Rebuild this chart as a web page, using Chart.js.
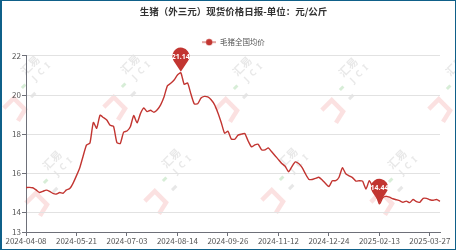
<!DOCTYPE html>
<html>
<head>
<meta charset="utf-8">
<script src="https://cdn.jsdelivr.net/npm/chart.js@4"></script>
<style>
  html, body { margin: 0; padding: 0; background: #fff; }
  #wrap { position: relative; width: 456px; height: 250px; }
  #frame { position: absolute; left: 0; top: 0; width: 456px; height: 250px; box-sizing: border-box;
           border: 1px solid #0f6089; border-left-width: 2px; pointer-events: none; }
</style>
</head>
<body>
<div id="wrap">
  <canvas id="price-chart" width="456" height="250"></canvas>
  <div id="frame"></div>
</div>
<script>
// 数据
var titleText = '生猪（外三元）现货价格日报-单位：元/公斤';
var seriesName = '毛猪全国均价';
var tickLabels = ['2024-04-08', '2024-05-21', '2024-07-03', '2024-08-14', '2024-09-26',
                  '2024-11-12', '2024-12-24', '2025-02-13', '2025-03-27'];
var STEP = 15; // số điểm giữa 2 nhãn
var yTicks = [13, 14, 16, 18, 20, 22];
var prices = [
    15.27, 15.28, 15.26, 15.15, 15.02, 15.08, 15.14, 15.08, 14.97, 14.94,
    15.02, 14.98, 15.15, 15.22, 15.50, 15.88, 16.30, 16.90, 17.45, 17.55,
    18.60, 18.30, 18.97, 18.85, 18.72, 18.45, 18.40, 17.57, 17.52, 18.10,
    18.16, 18.38, 18.95, 18.58, 19.05, 19.34, 19.15, 19.22, 19.12, 19.25,
    19.50, 19.90, 20.47, 20.60, 20.77, 21.02, 21.14, 20.55, 20.62, 20.05,
    19.55, 19.55, 19.85, 19.93, 19.90, 19.76, 19.51, 19.10, 18.60, 18.05,
    18.15, 17.75, 17.74, 17.95, 18.00, 18.03, 17.65, 17.35, 17.45, 17.48,
    17.20, 17.20, 17.30, 17.10, 16.90, 16.70, 16.50, 16.36, 16.08, 16.34,
    16.58, 16.50, 16.30, 15.98, 15.70, 15.68, 15.74, 15.80, 15.66, 15.48,
    15.32, 15.62, 15.62, 15.80, 16.28, 15.98, 15.87, 15.78, 15.60, 15.62,
    15.60, 15.20, 15.62, 15.30, 14.95, 14.44, 14.75, 14.82, 14.78, 14.70,
    14.65, 14.60, 14.52, 14.58, 14.50, 14.66, 14.55, 14.52, 14.72, 14.72,
    14.65, 14.62, 14.66, 14.57
];

var categories = prices.map(function (v, i) {
    return i % STEP === 0 ? tickLabels[i / STEP] : '';
});

var RED = '#c23531';
var AXIS = '#6e7079';
Chart.defaults.font.family = '"Noto Sans CJK SC", "Noto Sans", sans-serif';

// icon legend: đường + chấm tròn
var legendIcon = document.createElement('canvas');
legendIcon.width = 14; legendIcon.height = 8;
(function () {
    var c = legendIcon.getContext('2d');
    c.strokeStyle = 'rgba(194,53,49,0.45)';
    c.lineWidth = 2;
    c.beginPath(); c.moveTo(0, 4); c.lineTo(14, 4); c.stroke();
    c.fillStyle = RED;
    c.beginPath(); c.arc(7, 4, 3.2, 0, Math.PI * 2); c.fill();
})();

// watermark 汇易 JCI
var watermarkPlugin = {
    id: 'watermark',
    beforeDraw: function (chart) {
        var ctx = chart.ctx;
        var spots = [[30, 65], [130, 64], [242, 66], [348, 67], [455, 66],
                     [52, 160], [171, 158], [288, 157], [397, 159]];
        spots.forEach(function (p) {
            ctx.save();
            ctx.translate(p[0], p[1]);
            ctx.rotate(-Math.PI / 4);
            ctx.textAlign = 'center';
            ctx.textBaseline = 'middle';
            ctx.fillStyle = 'rgba(190,190,190,0.35)';
            ctx.font = 'bold 11px "Noto Sans CJK SC"';
            ctx.fillText('汇易', 0, 0);
            ctx.font = 'bold 9px "Noto Sans"';
            ctx.fillText('J  C  I', 3, 13);
            // logo
            ctx.strokeStyle = 'rgba(235,90,90,0.18)';
            ctx.lineWidth = 4.5;
            ctx.beginPath();
            ctx.moveTo(-49, 12); ctx.lineTo(-35, 12); ctx.lineTo(-35, 28); ctx.lineTo(-48, 31);
            ctx.stroke();
            ctx.fillStyle = 'rgba(110,190,110,0.28)';
            ctx.fillRect(-22, 9, 5, 3);
            ctx.fillStyle = 'rgba(160,160,160,0.25)';
            ctx.fillRect(-22, 22, 6, 3);
            ctx.restore();
        });
    }
};

// markPoint dạng pin cho max / min
var pinPlugin = {
    id: 'pins',
    afterDatasetsDraw: function (chart) {
        var ctx = chart.ctx;
        var data = chart.data.datasets[0].data;
        var meta = chart.getDatasetMeta(0);
        var maxI = 0, minI = 0;
        data.forEach(function (v, i) {
            if (v > data[maxI]) maxI = i;
            if (v < data[minI]) minI = i;
        });
        [maxI, minI].forEach(function (idx) {
            var pt = meta.data[idx];
            var tipX = pt.x, tipY = pt.y - 1;
            var r = 8.6, d = 15.5;
            var cx = tipX, cy = tipY - d;
            var phi = Math.acos(r / d);
            ctx.save();
            ctx.fillStyle = RED;
            ctx.beginPath();
            ctx.arc(cx, cy, r, Math.PI / 2 + phi, Math.PI * 2.5 - phi);
            ctx.lineTo(tipX, tipY);
            ctx.closePath();
            ctx.fill();
            ctx.fillStyle = '#fff';
            ctx.font = 'bold 7px "Noto Sans"';
            ctx.textAlign = 'center';
            ctx.textBaseline = 'middle';
            ctx.fillText(data[idx].toFixed(2), cx, cy + 0.5);
            ctx.restore();
        });
    }
};

var ctx = document.getElementById('price-chart').getContext('2d');
var chart = new Chart(ctx, {
    type: 'line',
    data: {
        labels: categories,
        datasets: [{
            label: seriesName,
            data: prices,
            borderColor: RED,
            backgroundColor: RED,
            borderWidth: 1.4,
            pointRadius: 0,
            tension: 0.18,
            yAxisID: 'y'
        }]
    },
    options: {
        responsive: false,
        animation: false,
        layout: { padding: { left: 11, right: 0, top: 0, bottom: 0 } },
        plugins: {
            title: {
                display: true,
                text: titleText,
                color: '#333',
                font: { size: 9.5, weight: 'bold' },
                padding: { top: 6, bottom: 17 }
            },
            legend: {
                display: true,
                labels: {
                    usePointStyle: true,
                    pointStyleWidth: 14,
                    color: '#555',
                    font: { size: 7.5 },
                    padding: 4,
                    generateLabels: function () {
                        return [{ text: seriesName, pointStyle: legendIcon, fontColor: '#555',
                                  lineWidth: 0, datasetIndex: 0 }];
                    }
                }
            },
            tooltip: { enabled: false }
        },
        scales: {
            x: {
                grid: {
                    display: true,
                    drawOnChartArea: false,
                    tickLength: 4,
                    color: function (c) { return c.index % STEP === 0 ? AXIS : 'rgba(0,0,0,0)'; }
                },
                border: { color: AXIS },
                ticks: {
                    autoSkip: false,
                    maxRotation: 0,
                    color: '#555',
                    font: { size: 8 },
                    padding: 0,
                    callback: function (val, i) { return categories[i]; }
                },
                afterFit: function (s) { s.height = 18; }
            },
            y: {
                min: 13,
                max: 22,
                afterBuildTicks: function (s) {
                    s.ticks = yTicks.map(function (v) { return { value: v }; });
                },
                grid: {
                    tickLength: 4,
                    tickColor: AXIS,
                    color: function (c) { return c.tick && c.tick.value === 13 ? 'rgba(0,0,0,0)' : '#e2e2e2'; }
                },
                border: { color: AXIS },
                ticks: { color: '#555', font: { size: 8 }, padding: 1 },
                afterFit: function (s) { s.width = 15; }
            },
            y2: {
                position: 'right',
                display: true,
                grid: { display: false },
                border: { display: false },
                ticks: { display: false },
                afterFit: function (s) { s.width = 16; }
            }
        }
    },
    plugins: [watermarkPlugin, pinPlugin]
});
</script>
</body>
</html>
